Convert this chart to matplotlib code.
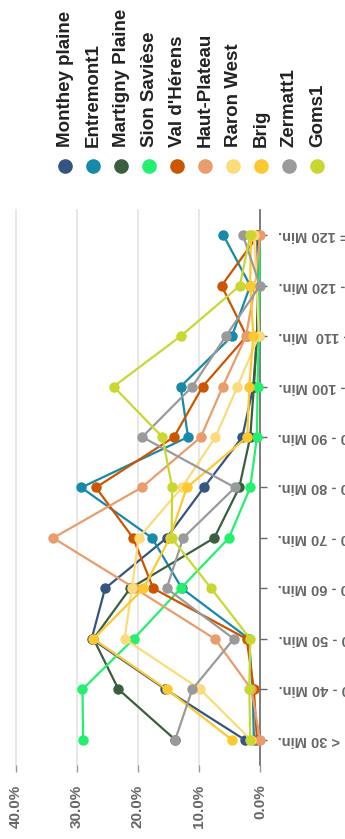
import matplotlib
matplotlib.use("Agg")
import matplotlib.pyplot as plt
from matplotlib.lines import Line2D

categories = ["< 30 Min.", "30 - 40 Min.", "40 - 50 Min.", "50 - 60 Min.", "60 - 70 Min.",
              "70 - 80 Min.", "80 - 90 Min.", "90 - 100 Min.", "100 - 110  Min.",
              "110 - 120 Min.", ">= 120 Min."]

monthey = [2.5, 15.5, 27.6, 25.4, 15.3, 9.2, 2.9, 1.1, 0.5, 0.3, 0.4]
entremont = [1.0, 1.2, 1.8, 12.8, 17.7, 29.3, 11.8, 13.0, 4.6, 1.6, 6.0]
martigny = [13.9, 23.2, 27.3, 21.3, 7.5, 3.4, 1.6, 1.0, 0.5, 0.3, 0.4]
sion = [29.0, 29.1, 20.7, 13.0, 5.1, 1.6, 0.5, 0.4, 0.2, 0.1, 0.1]
herens = [0.5, 1.0, 2.2, 17.5, 20.8, 26.9, 14.1, 9.4, 2.2, 6.3, 0.3]
hautplateau = [0.0, 1.4, 7.4, 20.5, 33.9, 19.4, 9.7, 6.1, 2.3, 0.8, 0.0]
raron = [1.5, 9.8, 22.2, 21.0, 19.9, 12.8, 7.3, 3.7, 0.2, 0.5, 1.0]
brig = [4.6, 15.3, 27.3, 19.1, 14.8, 12.0, 2.1, 1.75, 1.1, 1.6, 1.5]
zermatt = [13.9, 11.1, 4.3, 15.3, 12.6, 4.1, 19.3, 11.1, 5.6, 0.0, 2.8]
goms = [1.6, 1.75, 1.6, 8.0, 14.5, 14.4, 16.0, 24.0, 13.0, 3.3, 1.6]

series_names = ["Monthey plaine", "Entremont1", "Martigny Plaine", "Sion Savièse", "Val d'Hérens",
                "Haut-Plateau", "Raron West", "Brig", "Zermatt1", "Goms1"]
series_values = [monthey, entremont, martigny, sion, herens, hautplateau, raron, brig, zermatt, goms]
colors = ["#34557f", "#168aa8", "#3a5f3f", "#22f06e", "#cc5500",
          "#e99c6c", "#fcdb7a", "#fdc830", "#9a9a9a", "#c9d732"]

value_ticks = [0, 10, 20, 30, 40]

W, H = 345, 839
fig = plt.figure(figsize=(W / 100, H / 100), dpi=100)
plt.rcParams['font.family'] = ['Liberation Sans', 'DejaVu Sans']

left, right, top, bottom = 16, 260, 210, 765
ax = fig.add_axes([left / W, 1 - bottom / H, (right - left) / W, (bottom - top) / H])
ax.set_xlim(40, 0)
ax.set_ylim(-0.5, len(categories) - 0.5)

for v in value_ticks[1:]:
    ax.axvline(v, color="#e6e6e6", lw=1.3, zorder=0, clip_on=False)

pos = list(range(len(categories)))
for name, vals, c in zip(series_names, series_values, colors):
    ax.plot(vals, pos, color=c, lw=1.6, marker="o", markersize=6.5,
            markeredgecolor=c, clip_on=False, zorder=3)

for s in ["top", "left", "bottom"]:
    ax.spines[s].set_visible(False)
ax.spines["right"].set_color("#666666")
ax.spines["right"].set_linewidth(1.2)

ax.set_xticks(value_ticks)
ax.set_xticklabels([f"{v:.1f}%" for v in value_ticks], rotation=90,
                   fontsize=11, fontweight="bold", color="#666666")
ax.tick_params(axis="x", length=5, width=1, color="#999999", pad=9)

ax.yaxis.tick_right()
ax.set_yticks(pos)
ax.set_yticklabels(categories, rotation=180, fontsize=10.5, fontweight="bold", color="#666666")
ax.tick_params(axis="y", length=5, width=1, color="#666666", pad=8)
for lab in ax.get_yticklabels():
    lab.set_ha("left")
    lab.set_va("center")

# legend
for i, (name, c) in enumerate(zip(series_names, colors)):
    x = 65 + 28.05 * i
    fig.add_artist(Line2D([x / W], [1 - 166 / H], marker="o", markersize=9.5,
                          color=c, markeredgecolor=c, linestyle="none",
                          transform=fig.transFigure))
    fig.text(x / W, 1 - 147 / H, name, rotation=90, ha="center", va="bottom",
             fontsize=13.5, fontweight="bold", color="#222222")

fig.savefig("out.png", dpi=100)
